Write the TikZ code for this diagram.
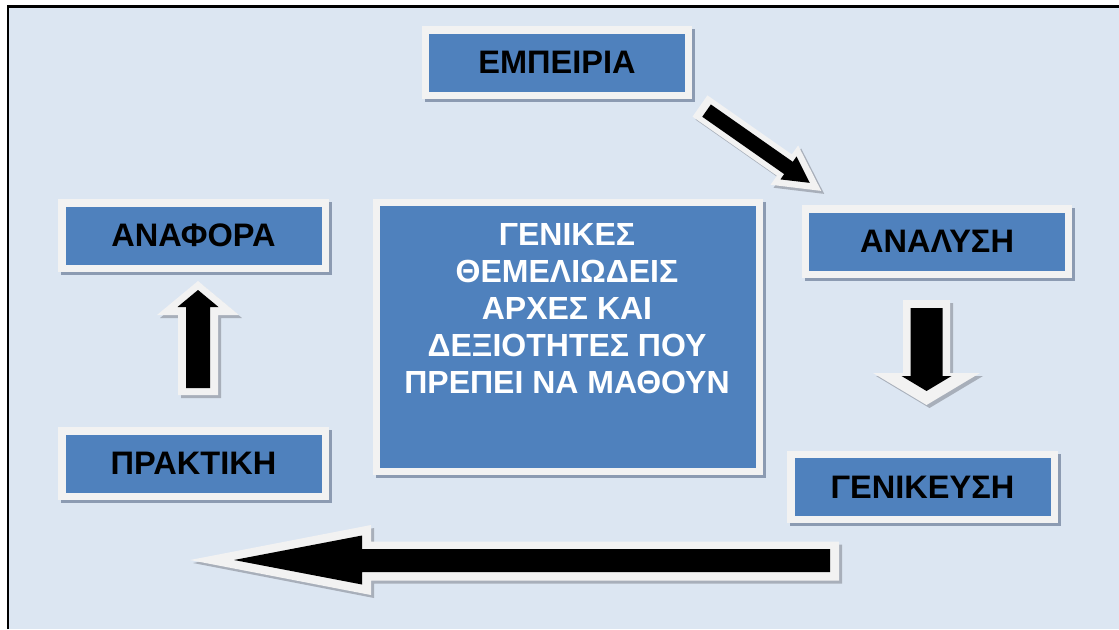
\documentclass[tikz,border=0pt]{standalone}
\usepackage{fontspec}
\setmainfont{Liberation Sans}
\usetikzlibrary{positioning,backgrounds}
\definecolor{fond}{RGB}{220,230,242}
\definecolor{bleu}{RGB}{79,129,189}
\definecolor{blanc}{RGB}{242,242,242}
\definecolor{ombre}{RGB}{140,155,178}
\definecolor{ombrefl}{RGB}{168,175,186}

\begin{document}
\begin{tikzpicture}[x=0.75pt, y=-0.75pt, line join=miter]
\tikzstyle{boite}=[draw=blanc, fill=bleu, line width=5.6pt, inner sep=0pt,
                   minimum width=197.6pt, minimum height=49.1pt,
                   font=\bfseries\fontsize{24.4}{28}\selectfont]
\tikzstyle{grande}=[boite, minimum width=286.9pt, minimum height=201.4pt]
\tikzstyle{titre}=[text=white, align=center, inner sep=0pt,
                   font=\bfseries\fontsize{24}{27.75}\selectfont]
\useasboundingbox (0,0) rectangle (1119,629);

% les boites
\node[boite] (emp) at (557,62.5) {ΕΜΠΕΙΡΙΑ};
\node[boite] (ana) at (937,241.5) {ΑΝΑΛΥΣΗ};
\node[boite] (gen) at (922.5,487) {ΓΕΝΙΚΕΥΣΗ};
\node[boite] (pra) at (193.5,463.5) {ΠΡΑΚΤΙΚΗ};
\node[boite] (ref) [above=116.25pt of pra] {ΑΝΑΦΟΡΑ};
\node[grande] (centre) at (568,337) {};
\node[titre] (txt) at (567,309) {ΓΕΝΙΚΕΣ\\ΘΕΜΕΛΙΩΔΕΙΣ\\ΑΡΧΕΣ ΚΑΙ\\ΔΕΞΙΟΤΗΤΕΣ ΠΟΥ\\ΠΡΕΠΕΙ ΝΑ ΜΑΘΟΥΝ};

% fond, cadre et ombres des boites
\begin{scope}[on background layer]
\fill[white] (0,0) rectangle (1119,629);
\fill[fond] (7,6) rectangle (1119,629);
\draw[line width=2.2pt] (8,629) -- (8,6.7) -- (1119,6.7);
\foreach \n in {emp,ana,gen,pra,ref,centre}
  \fill[ombre] ([shift={(3,3)}]\n.north west) rectangle ([shift={(3,3)}]\n.south east);
\end{scope}

% fleche en biais : emp -> ana
\foreach \d/\c in {3/ombrefl, 0/blanc}
  \fill[\c, shift={(700+\d,106+\d)}, rotate=-35]
    (0,-13) -- (103,-13) -- (103,-24) -- (148,0) -- (103,24) -- (103,13) -- (0,13) -- cycle;
\fill[shift={(700,106)}, rotate=-35]
    (8,-7.5) -- (108,-7.5) -- (108,-14) -- (134,0) -- (108,14) -- (108,7.5) -- (8,7.5) -- cycle;

% fleche descendante : ana -> gen
\foreach \d/\c in {3/ombrefl, 0/blanc}
  \fill[\c, shift={(\d,\d)}] (903,300) -- (950,300) -- (950,373) -- (980,373) -- (926.5,405)
    -- (873,373) -- (903,373) -- cycle;
\fill (910.5,308) -- (942.5,308) -- (942.5,376) -- (951.5,376) -- (926.5,391)
    -- (901.5,376) -- (910.5,376) -- cycle;

% fleche vers la gauche : gen -> pra
\foreach \d/\c in {3/ombrefl, 0/blanc}
  \fill[\c, shift={(\d,\d)}] (190,560) -- (371,525) -- (371,541.5) -- (839,541.5)
    -- (839,580.5) -- (371,580.5) -- (371,595) -- cycle;
\fill (234,560) -- (362,535.5) -- (362,549) -- (830,549) -- (830,572)
    -- (362,572) -- (362,584.5) -- cycle;

% fleche montante : pra -> ref
\foreach \d/\c in {3/ombrefl, 0/blanc}
  \fill[\c, shift={(\d,\d)}] (198,281) -- (239,315) -- (218,315) -- (218,395)
    -- (178,395) -- (178,315) -- (157,315) -- cycle;
\fill (198,290) -- (218.5,307) -- (210,307) -- (210,388) -- (186,388)
    -- (186,307) -- (177.5,307) -- cycle;
\end{tikzpicture}
\end{document}
